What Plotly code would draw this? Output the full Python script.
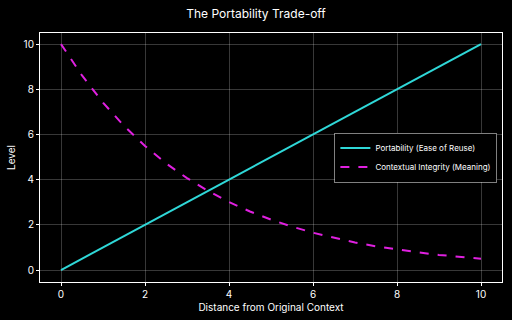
import plotly.graph_objects as go

distance = [0, 0.5, 1, 1.5, 2, 2.5, 3, 3.5, 4, 4.5, 5, 5.5, 6, 6.5, 7, 7.5, 8, 8.5, 9, 9.5, 10]
portability = [0, 0.5, 1, 1.5, 2, 2.5, 3, 3.5, 4, 4.5, 5, 5.5, 6, 6.5, 7, 7.5, 8, 8.5, 9, 9.5, 10]
integrity = [10, 8.61, 7.41, 6.38, 5.49, 4.72, 4.07, 3.5, 3.01, 2.59, 2.23, 1.92, 1.65, 1.42, 1.22, 1.05, 0.91, 0.78, 0.67, 0.58, 0.5]

font = "Inter, Noto Sans, sans-serif"

fig = go.Figure()
fig.add_trace(go.Scatter(x=distance, y=portability, mode="lines",
                         name="Portability (Ease of Reuse)",
                         line=dict(color="#2fd8d8", width=2)))
fig.add_trace(go.Scatter(x=distance, y=integrity, mode="lines",
                         name="Contextual Integrity (Meaning)",
                         line=dict(color="#e020e0", width=2, dash="dash")))

axis_common = dict(
    showgrid=True, gridcolor="rgba(255,255,255,0.22)", gridwidth=1,
    showline=True, mirror=True, linecolor="white", linewidth=1,
    ticks="outside", ticklen=3, tickcolor="white",
    zeroline=False, tickfont=dict(color="white", size=10, family=font),
    dtick=2,
)

fig.update_layout(
    width=512, height=320,
    paper_bgcolor="black", plot_bgcolor="black",
    margin=dict(l=40, r=10, t=33, b=38),
    title=dict(text="The Portability Trade-off", x=0.5, xanchor="center",
               y=1 - 14/320, yanchor="middle",
               font=dict(color="white", size=12, family=font)),
    xaxis=dict(range=[-0.5, 10.5],
               title=dict(text="Distance from Original Context", standoff=4,
                          font=dict(color="white", size=10, family=font)),
               **axis_common),
    yaxis=dict(range=[-0.53, 10.49],
               title=dict(text="Level", standoff=6,
                          font=dict(color="white", size=10, family=font)),
               **axis_common),
    legend=dict(x=0.99, y=0.5, xanchor="right", yanchor="middle",
                bgcolor="black", bordercolor="rgba(255,255,255,0.5)", borderwidth=1,
                font=dict(color="white", size=8, family=font),
                tracegroupgap=0, itemwidth=30),
    showlegend=True,
)

fig.write_html("out.html")
